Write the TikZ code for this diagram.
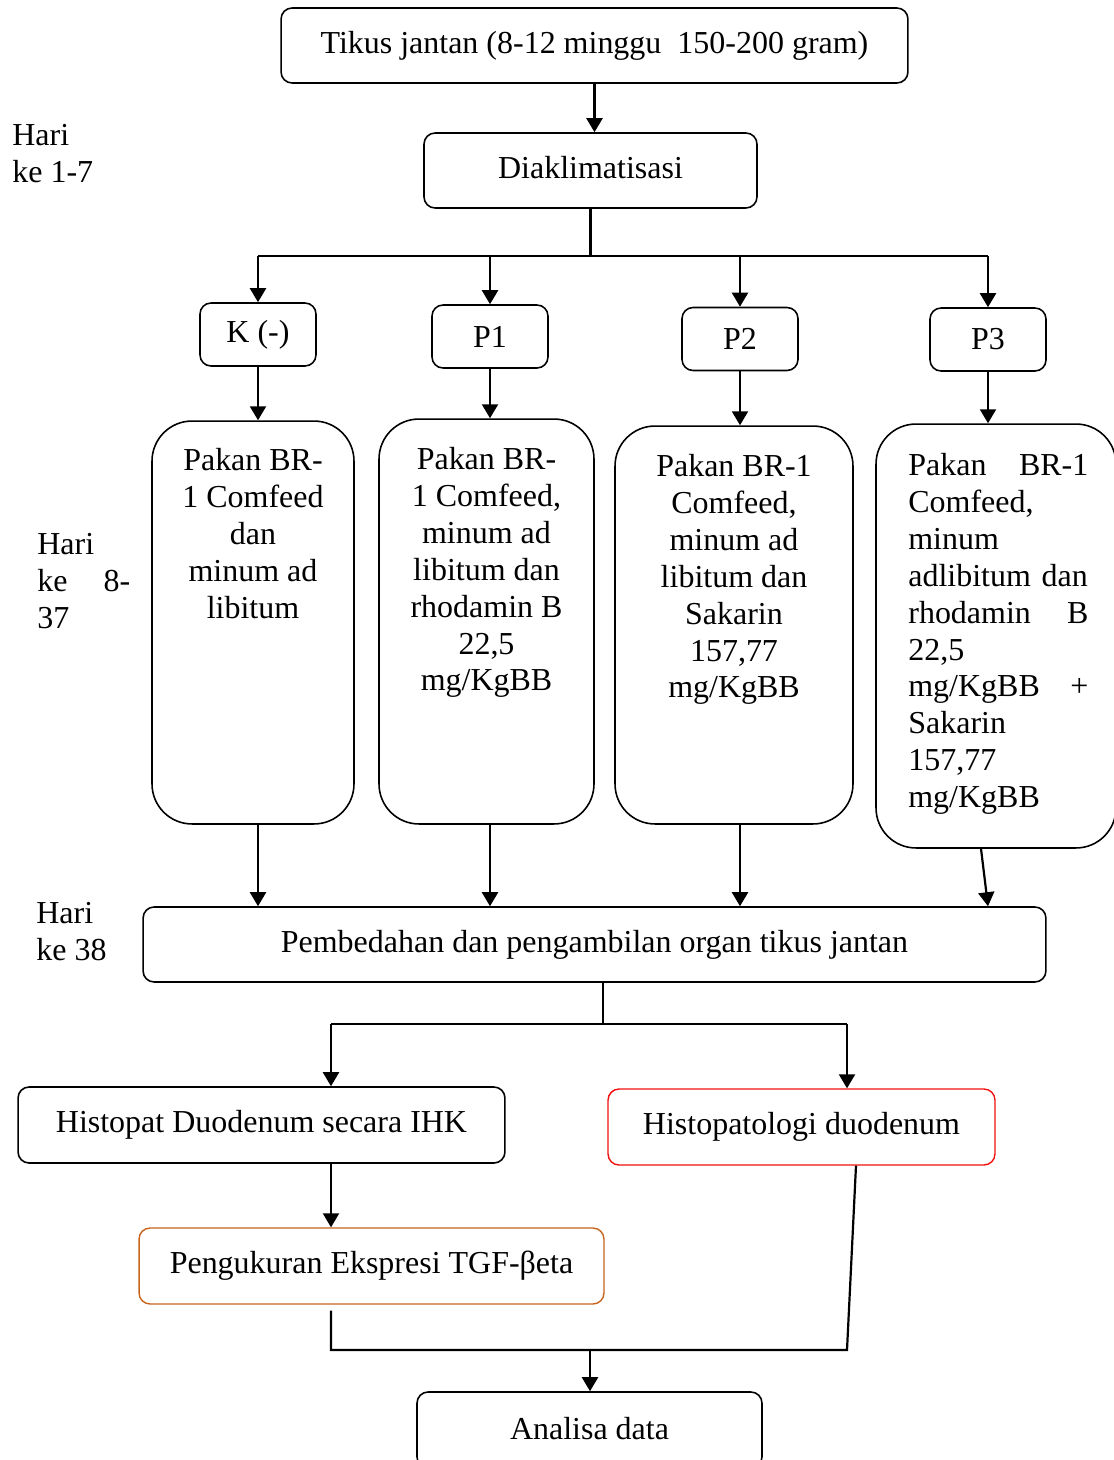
\documentclass[tikz,border=0pt]{standalone}
\usepackage{fontspec}
\setmainfont{Liberation Serif}
\usepackage{xcolor}
\usetikzlibrary{arrows.meta,positioning,calc}
\definecolor{redline}{HTML}{F01010}
\definecolor{orangeline}{HTML}{C8641E}
\newcommand{\jfill}{\hspace{0pt plus 1filll}}
\tikzset{
  box/.style={draw=black,rounded corners=0.22cm,line width=0.9pt,align=center,inner sep=0pt},
  bigbox/.style={box,rounded corners=0.8cm},
  boxr/.style={box,draw=redline,line width=0.8pt},
  boxo/.style={box,draw=orangeline,line width=0.8pt},
  arr/.style={-{Triangle[length=2.8mm,width=3.2mm]},line width=1.25pt},
  ln/.style={line width=1.25pt},
  txt/.style={align=center,inner sep=0pt,anchor=north},
  lbl/.style={align=left,inner sep=0pt,anchor=north west},
}

\begin{document}
\begin{tikzpicture}[x=0.02cm,y=-0.02cm,every node/.style={font=\fontsize{18.2}{21}\selectfont}]
\clip (0,0) rectangle (1114,1460);
% top part
\node[box,minimum width=12.54cm,minimum height=1.5cm] (top) at (594.5,45.5) {Tikus jantan (8-12 minggu\ \ 150-200 gram)};
\node[box,minimum width=6.66cm,minimum height=1.5cm] (diak) at (590.5,170.5) {\raisebox{0.12cm}{Diaklimatisasi}};
\node[box,minimum width=2.32cm,minimum height=1.26cm] (k) at (258,334.5) {K (-)};
\node[box,minimum width=2.32cm,minimum height=1.26cm] (p1) at (490,336.5) {P1};
\node[box,minimum width=2.32cm,minimum height=1.26cm] (p2) at (740,339) {P2};
\node[box,minimum width=2.32cm,minimum height=1.26cm] (p3) at (988,339.5) {P3};
% treatment boxes
\node[bigbox,minimum width=4.04cm,minimum height=8.06cm] (bk) at (253,622.5) {};
\node[bigbox,minimum width=4.3cm,minimum height=8.1cm] (bp1) at (486.5,621.5) {};
\node[bigbox,minimum width=4.76cm,minimum height=7.96cm] (bp2) at (734,625) {};
\node[bigbox,minimum width=4.8cm,minimum height=8.48cm] (bp3) at (996,636) {};
\node[txt] (tk) at (253,448) {Pakan BR-\\1 Comfeed\\dan\\minum ad\\libitum};
\node[txt] (tp1) at (486.5,447) {Pakan BR-\\1 Comfeed,\\minum ad\\libitum dan\\rhodamin B\\22,5\\mg/KgBB};
\node[txt] (tp2) at (734,454) {Pakan BR-1\\Comfeed,\\minum ad\\libitum dan\\Sakarin\\157,77\\mg/KgBB};
\node[lbl,text width=3.6cm] (tp3) at (908,453) {Pakan\jfill BR-1\\Comfeed,\\minum\\adlibitum dan\\rhodamin\jfill B\\22,5\\mg/KgBB\jfill +\\Sakarin\\157,77\\mg/KgBB};
% bottom part
\node[box,minimum width=18.06cm,minimum height=1.5cm] (pemb) at (594.5,944.5) {Pembedahan dan pengambilan organ tikus jantan};
\node[box,minimum width=9.74cm,minimum height=1.52cm] (ihk) at (261.5,1125) {\raisebox{0.08cm}{Histopat Duodenum secara IHK}};
\node[boxr,minimum width=7.74cm,minimum height=1.52cm] (hpd) at (801.5,1127) {\raisebox{0.08cm}{Histopatologi duodenum}};
\node[boxo,minimum width=9.3cm,minimum height=1.52cm] (tgf) at (371.5,1266) {\raisebox{0.06cm}{Pengukuran Ekspresi TGF-βeta}};
\node[box,minimum width=6.9cm,minimum height=1.52cm] (ana) at (589.5,1430) {\raisebox{0.08cm}{Analisa data}};
% day labels
\node[lbl] (h1) at (12,124) {Hari\\ke 1-7};
\node[lbl,text width=1.86cm] (h2) at (37,533) {Hari\\ke\jfill 8-\\37};
\node[lbl] (h3) at (36,902) {Hari\\ke 38};
% connectors
\coordinate (split) at (589,256);
\coordinate (jl) at (331,1024);
\coordinate (jr) at (847,1024);
\coordinate (jb) at (590,1350);
\draw[arr](top.south)--(top.south |- diak.north);
\draw[ln](diak.south)--(diak.south |- split);
\draw[ln](k.north |- split)--(p3.north |- split);
\foreach \b in {k,p1,p2,p3}
  \draw[arr](\b.north |- split)--(\b.north);
\foreach \b/\c in {k/bk,p1/bp1,p2/bp2}{
  \draw[arr](\b.south)--(\b.south |- \c.north);
  \draw[arr](\b.south |- \c.south)--(\b.south |- pemb.north);
}
\draw[arr](p3.south)--(p3.south |- bp3.north);
\draw[arr]([xshift=-0.3cm]bp3.south)--(p3.south |- pemb.north);
\draw[ln](pemb.south -| 603,0)--(603,1024);
\draw[ln](jl)--(jr);
\draw[arr](jl)--(jl |- ihk.north);
\draw[arr](jr)--(jr |- hpd.north);
\draw[arr](jl |- ihk.south)--(jl |- tgf.north);
\draw[ln]([yshift=-0.12cm]jl |- tgf.south)--(jl |- jb)--(jr |- jb)--([xshift=0.18cm]jr |- hpd.south);
\draw[arr](jb)--(jb |- ana.north);
\end{tikzpicture}
\end{document}
